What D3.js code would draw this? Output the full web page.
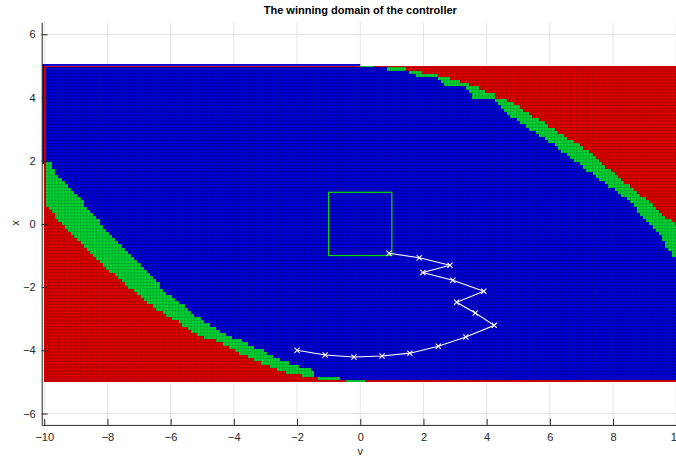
<!DOCTYPE html>
<html><head><meta charset="utf-8">
<script src="https://cdn.jsdelivr.net/npm/d3@7"></script>
<style>
body{margin:0;background:#fff}
text{font-family:"Liberation Sans",Arial,Helvetica,sans-serif}
</style>
</head><body>
<svg id="chart" width="676" height="459"></svg>
<script>
// ---------------- data ----------------
const xTickValues = [-10,-8,-6,-4,-2,0,2,4,6,8,10];
const yTickValues = [-6,-4,-2,0,2,4,6];
const stateStep = 0.1;
const vLimits = [-10, 10];
const xLimits = [-5, 5];

// upper-right band: for each row x, v where green starts and where red starts
const upperRowX      = [-1.2, -1.04, -0.7, -0.3, -0.03, 0.44, 0.76, 1.39, 2.13, 2.34, 2.87, 3.13, 3.4, 3.7, 3.9, 4.0, 4.1, 4.2, 4.3, 4.4, 4.5, 4.6, 4.7, 4.8, 4.9];
const upperGreenFrom = [10.5, 9.9, 9.7, 9.48, 9.2, 8.75, 8.5, 7.59, 6.6, 6.35, 5.56, 5.2, 4.8, 4.45, 4.23, 3.53, 3.53, 3.44, 3.35, 2.66, 2.55, 2.46, 1.75, 1.55, 0.85];
const upperRedFrom   = [11.5, 11, 10.6, 10.3, 9.96, 9.4, 9.06, 8.27, 7.4, 7.16, 6.3, 5.94, 5.5, 5.05, 4.64, 4.23, 4.23, 3.95, 3.76, 3.44, 3.15, 2.84, 2.44, 1.94, 1.44];

// lower-left band: for each row x, v where red ends and where green ends
const lowerRowX    = [-4.9, -4.8, -4.7, -4.6, -4.4, -4.2, -4.0, -3.67, -3.57, -3.09, -2.67, -2.2, -1.14, -0.09, 0.65, 0.97, 1.4, 1.7, 1.9, 2.0];
const lowerRedTo   = [-1.38, -1.85, -2.35, -2.65, -3.15, -3.6, -4.0, -4.66, -5.07, -5.8, -6.5, -7.08, -8.34, -9.4, -9.95, -10.3, -10.5, -10.5, -10.6, -11];
const lowerGreenTo = [-0.66, -1.49, -1.5, -1.6, -2.3, -2.8, -3.1, -3.87, -4.1, -4.98, -5.49, -6.13, -7.08, -8.13, -8.75, -8.97, -9.5, -9.7, -9.77, -10.5];

// edge rows
const topRowGreen = [0, 0.4];
const bottomRowGreen = [-0.4, 0.1];

// target set
const targetV = [-1, 1];
const targetX = [-1, 1];

// closed-loop trajectory
const trajV = [-2.0, -1.11, -0.2, 0.69, 1.57, 2.47, 3.34, 4.24, 3.64, 3.05, 3.91, 2.93, 1.98, 2.84, 1.87, 0.91];
const trajX = [-4.0, -4.15, -4.21, -4.18, -4.09, -3.87, -3.58, -3.21, -2.82, -2.48, -2.13, -1.78, -1.54, -1.31, -1.07, -0.93];

// ---------------- drawing ----------------
const COL = {win: "rgb(0,0,212)", band: "rgb(0,212,52)", lose: "rgb(222,0,0)"};
const svg = d3.select("#chart");
const xs = d3.scaleLinear().domain([-10.08, 10.08]).range([41.7, 678.8]);
const ys = d3.scaleLinear().domain([-6.36, 6.38]).range([424.9, 22.3]);

// grid lines (behind)
const grid = svg.append("g");
grid.selectAll("line.gx").data(xTickValues).join("line")
  .attr("x1", d => xs(d)).attr("x2", d => xs(d)).attr("y1", ys.range()[1]).attr("y2", ys.range()[0])
  .attr("stroke", "#e3e3e3").attr("stroke-width", 1);
grid.selectAll("line.gy").data(yTickValues).join("line")
  .attr("y1", d => ys(d)).attr("y2", d => ys(d)).attr("x1", xs.range()[0]).attr("x2", xs.range()[1])
  .attr("stroke", "#e3e3e3").attr("stroke-width", 1);

// classification
const gU = d3.scaleLinear().domain(upperRowX).range(upperGreenFrom).clamp(true);
const rU = d3.scaleLinear().domain(upperRowX).range(upperRedFrom).clamp(true);
const rL = d3.scaleLinear().domain(lowerRowX).range(lowerRedTo).clamp(true);
const gL = d3.scaleLinear().domain(lowerRowX).range(lowerGreenTo).clamp(true);
const nV = Math.round((vLimits[1]-vLimits[0])/stateStep);
const nX = Math.round((xLimits[1]-xLimits[0])/stateStep);
const cells = [];
for (let i = 0; i <= nV; i++) {
  for (let j = 0; j <= nX; j++) {
    const v = +(vLimits[0] + i*stateStep).toFixed(2);
    const x = +(xLimits[0] + j*stateStep).toFixed(2);
    let c = "win";
    if (i === 0) c = "lose";
    else if (j === nX) c = (v >= topRowGreen[0] && v <= topRowGreen[1]) ? "band" : "lose";
    else if (j === 0) c = (v >= bottomRowGreen[0] && v <= bottomRowGreen[1]) ? "band" : "lose";
    else {
      if (v >= rU(x)) c = "lose";
      else if (v >= gU(x)) c = "band";
      if (v <= rL(x)) c = "lose";
      else if (v <= gL(x)) c = "band";
    }
    cells.push({v, x, c});
  }
}
const h = stateStep/2;
const field = svg.append("g");
// thin outline strips seen outside the edge rows
field.append("rect").attr("x", xs(-10.06)).attr("y", ys(5.06)).attr("width", xs(0)-xs(-10.06)).attr("height", ys(5)-ys(5.06)).attr("fill", COL.win);
field.append("rect").attr("x", xs(-10.06)).attr("y", ys(5.06)).attr("width", xs(-10)-xs(-10.06)).attr("height", ys(1.9)-ys(5.06)).attr("fill", COL.win);
field.selectAll("rect.cell").data(cells).join("rect").attr("class","cell")
  .attr("x", d => xs(Math.max(d.v-h, vLimits[0])))
  .attr("width", d => xs(Math.min(d.v+h, vLimits[1])) - xs(Math.max(d.v-h, vLimits[0])))
  .attr("y", d => ys(Math.min(d.x+h, xLimits[1])))
  .attr("height", d => ys(Math.max(d.x-h, xLimits[0])) - ys(Math.min(d.x+h, xLimits[1])))
  .attr("fill", d => COL[d.c])
  .attr("shape-rendering", "crispEdges");
// cell edge lines
const vEdges = d3.range(nV).map(k => vLimits[0] + h + k*stateStep);
const xEdges = d3.range(nX).map(k => xLimits[0] + h + k*stateStep);
const edges = svg.append("g").attr("stroke", "#000").attr("stroke-opacity", 0.22).attr("stroke-width", 0.7);
edges.selectAll("line.ev").data(vEdges).join("line")
  .attr("x1", d => xs(d)).attr("x2", d => xs(d)).attr("y1", ys(xLimits[1])).attr("y2", ys(xLimits[0]));
edges.selectAll("line.ex").data(xEdges).join("line")
  .attr("y1", d => ys(d)).attr("y2", d => ys(d)).attr("x1", xs(vLimits[0])).attr("x2", xs(vLimits[1]));

// target box
svg.append("rect")
  .attr("x", xs(targetV[0])).attr("y", ys(targetX[1]))
  .attr("width", xs(targetV[1]) - xs(targetV[0])).attr("height", ys(targetX[0]) - ys(targetX[1]))
  .attr("fill", "none").attr("stroke", "rgb(0,220,0)").attr("stroke-width", 1.2);

// trajectory
const traj = trajV.map((v, k) => [v, trajX[k]]);
svg.append("path").datum(traj)
  .attr("d", d3.line().x(d => xs(d[0])).y(d => ys(d[1])))
  .attr("fill", "none").attr("stroke", "#fff").attr("stroke-width", 1.1);
const m = 2.6;
svg.append("g").selectAll("path").data(traj).join("path")
  .attr("d", d => { const px = xs(d[0]), py = ys(d[1]);
    return `M${px-m},${py-m}L${px+m},${py+m}M${px-m},${py+m}L${px+m},${py-m}`; })
  .attr("stroke", "#fff").attr("stroke-width", 1.1).attr("fill", "none");

// axes
const ax = svg.append("g").attr("transform", `translate(0,${ys.range()[0]})`)
  .call(d3.axisBottom(xs).tickValues(xTickValues).tickSize(-6).tickSizeOuter(0).tickPadding(8));
const ay = svg.append("g").attr("transform", `translate(${xs.range()[0]},0)`)
  .call(d3.axisLeft(ys).tickValues(yTickValues).tickSize(-6).tickSizeOuter(0).tickPadding(6));
[ax, ay].forEach(g => {
  g.select(".domain").attr("stroke", "#262626").attr("stroke-width", 1);
  g.selectAll(".tick line").attr("stroke", "#262626");
  g.selectAll(".tick text").attr("fill", "#262626").style("font-size", "11px")
    .style("font-family", '"Liberation Sans", Arial, sans-serif');
});

// labels
svg.append("text").attr("x", 360.3).attr("y", 14).attr("text-anchor", "middle")
  .style("font-size", "11px").style("font-weight", "bold").attr("fill", "#000")
  .text("The winning domain of the controller");
svg.append("text").attr("x", 360.3).attr("y", 455).attr("text-anchor", "middle")
  .style("font-size", "11px").attr("fill", "#262626").text("v");
svg.append("text").attr("transform", "translate(19,223) rotate(-90)").attr("text-anchor", "middle")
  .style("font-size", "11px").attr("fill", "#262626").text("x");
</script>
</body></html>
